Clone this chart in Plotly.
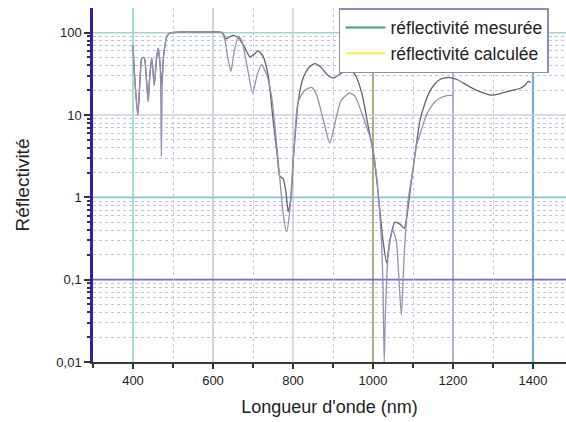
import plotly.graph_objects as go

# --- données ---
wl_mes = [400, 405, 412, 418, 422, 428, 433, 438, 442, 447, 453, 459, 463, 468, 472, 476,
          480, 484, 490, 497, 520, 560, 600, 622, 628, 632, 640, 651, 665, 680, 692, 700,
          713, 725, 738, 751, 760, 767, 775, 782, 788, 795, 801, 807, 813, 825, 840, 855,
          870, 885, 901, 920, 942, 955, 972, 988, 1001, 1010, 1017, 1025, 1034, 1042, 1055,
          1068, 1078, 1085, 1092, 1100, 1109, 1117, 1130, 1142, 1155, 1167, 1180, 1192,
          1210, 1242, 1270, 1297, 1320, 1345, 1367, 1380, 1388, 1395]
r_mes = [70, 25, 10, 30, 49, 50, 30, 14.6, 30, 49, 23, 49, 65, 40, 23, 50,
         70, 88, 97, 100, 102, 102, 102, 101, 92, 84, 88, 93, 85, 65, 51, 53,
         60, 52, 30, 8, 3.5, 1.8, 1.7, 1.2, 0.67, 1.0, 3, 7, 14.6, 28, 38, 42,
         38, 31, 28, 32, 35, 31, 18.5, 7.3, 3.4, 1.5, 0.7, 0.3, 0.16, 0.3, 0.5,
         0.47, 0.42, 0.6, 1.1, 2.2, 4.6, 8.3, 14, 19.4, 24, 27, 28.3, 28.5,
         27, 22, 19, 17.4, 18.3, 19.8, 21, 23, 25.6, 24.8]

wl_calc = [400, 405, 412, 418, 422, 428, 433, 438, 442, 447, 453, 459, 463, 468, 471, 473,
           476, 480, 484, 490, 497, 520, 560, 600, 622, 630, 637, 645, 652, 663, 672, 685,
           699, 710, 721, 735, 747, 758, 768, 776, 784, 792, 801, 813, 830, 847, 860, 875,
           892, 905, 920, 942, 955, 972, 988, 997, 1009, 1021, 1025, 1028, 1031, 1038,
           1049, 1058, 1065, 1071, 1078, 1088, 1100, 1109, 1117, 1130, 1142, 1155, 1167,
           1180, 1192, 1200]
r_calc = [70, 25, 10, 30, 49, 50, 30, 14.6, 30, 49, 23, 49, 65, 40, 3.2, 23,
          50, 70, 88, 97, 100, 102, 102, 102, 100, 80, 50, 34, 55, 90, 80, 40,
          18.5, 30, 41, 30, 16, 5, 1.5, 0.6, 0.38, 0.7, 3, 14.6, 20, 21.6, 17, 9,
          4.6, 8, 15, 18.5, 17, 10.5, 6.3, 4.6, 1.8, 0.3, 0.08, 0.01, 0.04, 0.2,
          0.4, 0.3, 0.1, 0.037, 0.2, 0.93, 2.2, 4.4, 5.7, 9, 12, 14.5, 16,
          17, 17.3, 17.3]

x_ticks = [400, 600, 800, 1000, 1200, 1400]
x_grid_colors = ["#8fdcb4", "#c4ccc4", "#d8d0d0", "#8ca060", "#9aa0c8", "#4a98c8"]
y_ticks = [0.01, 0.1, 1, 10, 100]
y_labels = ["0,01", "0,1", "1", "10", "100"]
y_grid_colors = [None, "#7a66d8", "#8cc0dc", "#d4cccc", "#a8d4c4"]

# graduations secondaires 2..9 de chaque décade
y_minor = [k * d for d in [0.01, 0.1, 1, 10, 100] for k in range(2, 10)]

fig = go.Figure()

fig.add_trace(go.Scatter(x=wl_mes, y=r_mes, mode="lines", showlegend=False,
                         line=dict(color="#5e6470", width=1.3, shape="spline", smoothing=0.6)))
fig.add_trace(go.Scatter(x=wl_calc, y=r_calc, mode="lines", showlegend=False,
                         line=dict(color="#9c8cb0", width=1.3, shape="spline", smoothing=0.6)))

# entrées de légende (couleurs de la légende d'origine)
fig.add_trace(go.Scatter(x=[None], y=[None], mode="lines", name="réflectivité mesurée",
                         line=dict(color="#3fa07e", width=2)))
fig.add_trace(go.Scatter(x=[None], y=[None], mode="lines", name="réflectivité calculée",
                         line=dict(color="#f4f040", width=2)))

# grilles principales colorées
for v, c in zip(x_ticks, x_grid_colors):
    fig.add_vline(x=v, line_color=c, line_width=1.6, layer="below")
for v, c in zip(y_ticks, y_grid_colors):
    if c:
        fig.add_hline(y=v, line_color=c, line_width=1.6, layer="below")

fig.update_layout(
    width=566, height=422,
    margin=dict(l=93, r=0, t=8, b=60),
    plot_bgcolor="white", paper_bgcolor="white",
    font=dict(family="Liberation Sans, Arial, sans-serif", color="#222"),
    legend=dict(x=0.52, y=1.0, xanchor="left", yanchor="top",
                bordercolor="#8e8cb4", borderwidth=1.5, bgcolor="white",
                font=dict(size=17.5), tracegroupgap=0, itemwidth=40),
)

fig.update_xaxes(
    range=[300, 1482.5], showgrid=False, zeroline=False,
    tickvals=x_ticks, ticks="outside", ticklen=5, tickwidth=1.5, tickcolor="#333",
    tickfont=dict(size=13),
    showline=True, linecolor="#2e3e30", linewidth=2,
    minor=dict(dtick=200, tick0=500, ticks="outside", ticklen=4, tickcolor="#333",
               showgrid=True, gridcolor="#c8c0e8", griddash="dot", gridwidth=1),
    title=dict(text="Longueur d'onde (nm)", font=dict(size=18), standoff=14),
)

fig.update_yaxes(
    type="log", range=[-2, 2.3], showgrid=False, zeroline=False,
    tickvals=y_ticks, ticktext=y_labels, ticks="outside", ticklen=6, tickwidth=1.5,
    tickcolor="#333", tickfont=dict(size=13),
    showline=True, linecolor="#3420a8", linewidth=2.5,
    minor=dict(tickvals=y_minor, ticks="outside", ticklen=3, tickcolor="#333",
               showgrid=True, gridcolor="#b8c4e4", griddash="dot", gridwidth=1),
    title=dict(text="Réflectivité", font=dict(size=19), standoff=22),
)

fig.write_html("out.html", config={"displayModeBar": False},
               post_script="document.body.style.margin='0';")
